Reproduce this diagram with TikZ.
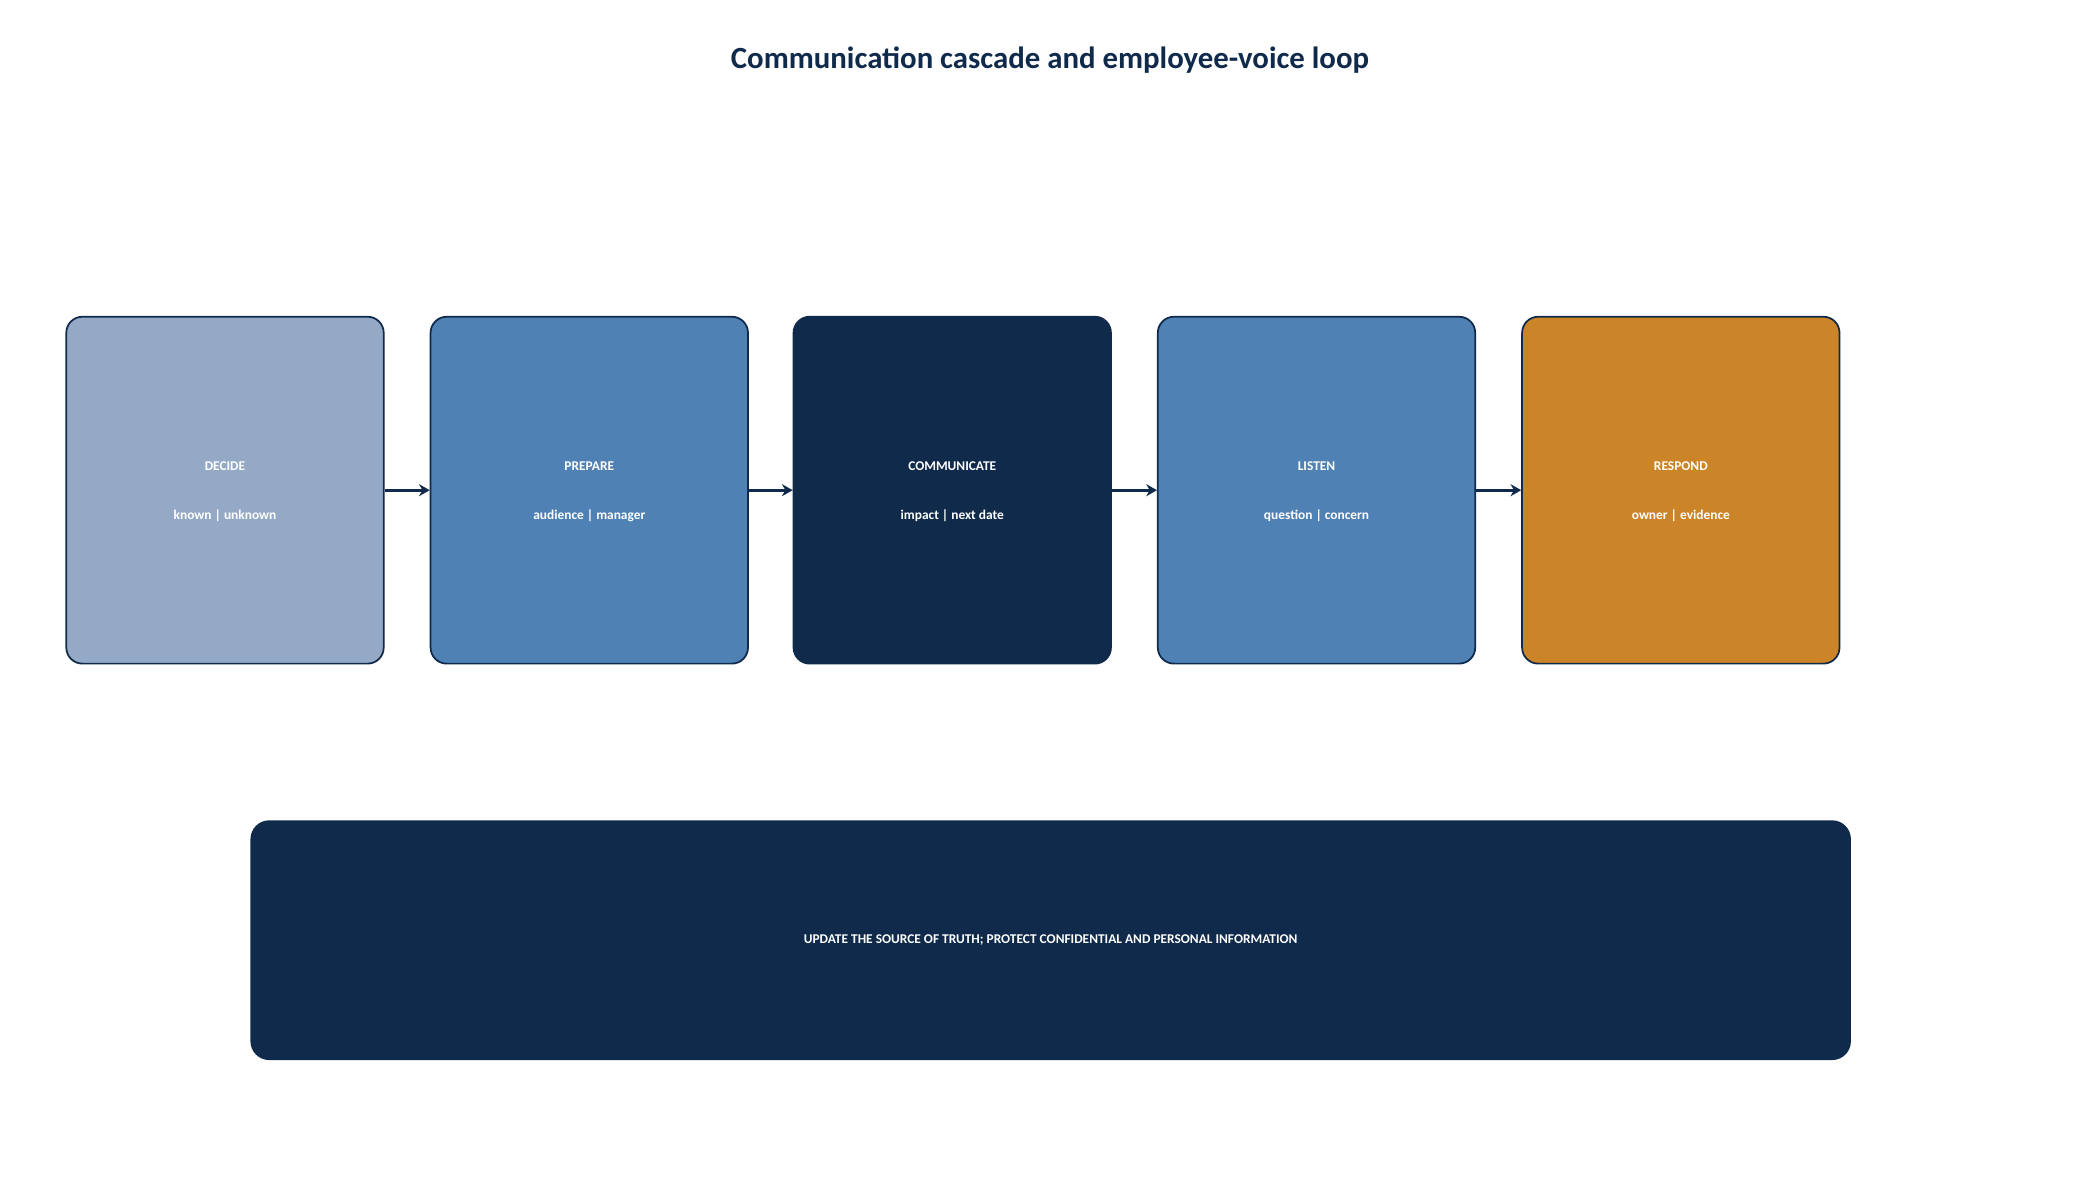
\documentclass[tikz,border=0pt]{standalone}
\usepackage{fontspec}
\setmainfont{Carlito}
\usetikzlibrary{arrows.meta}
\definecolor{navy}{HTML}{0F2A4A}
\definecolor{cdecide}{HTML}{94A9C6}
\definecolor{cblue}{HTML}{4F81B4}
\definecolor{corange}{HTML}{CC8429}
\begin{document}
\begin{tikzpicture}[x=1pt,y=-1pt,
  stagebox/.style={draw=navy,line width=1.3pt,rounded corners=12pt,minimum width=237pt,minimum height=259pt,inner sep=0pt},
  lbl/.style={text=white,font=\bfseries\fontsize{10}{12}\selectfont},
  arr/.style={draw=navy,line width=2.2pt,-{Stealth[length=8pt,width=9pt]}}]
\useasboundingbox (0,0) rectangle (1568,881);
\node[text=navy,font=\bfseries\fontsize{23}{28}\selectfont] (title) at (784,45) {Communication cascade and employee-voice loop};
\foreach \n/\x/\c/\a/\b in {d/168/cdecide/DECIDE/known | unknown,
  p/440/cblue/PREPARE/audience | manager,
  c/711/navy/COMMUNICATE/impact | next date,
  l/983/cblue/LISTEN/question | concern,
  r/1255/corange/RESPOND/owner | evidence}{
  \node[stagebox,fill=\c] (\n) at (\x,366) {};
  \node[lbl] (\n t) at (\x,348) {\a};
  \node[lbl] (\n s) at (\x,385) {\b};
}
\draw[arr] (d.east) -- (p.west);
\draw[arr] (p.east) -- (c.west);
\draw[arr] (c.east) -- (l.west);
\draw[arr] (l.east) -- (r.west);
\node[fill=navy,rounded corners=14pt,minimum width=1195pt,minimum height=179pt,lbl] (b) at (784.5,702) {UPDATE THE SOURCE OF TRUTH; PROTECT CONFIDENTIAL AND PERSONAL INFORMATION};
\end{tikzpicture}
\end{document}
